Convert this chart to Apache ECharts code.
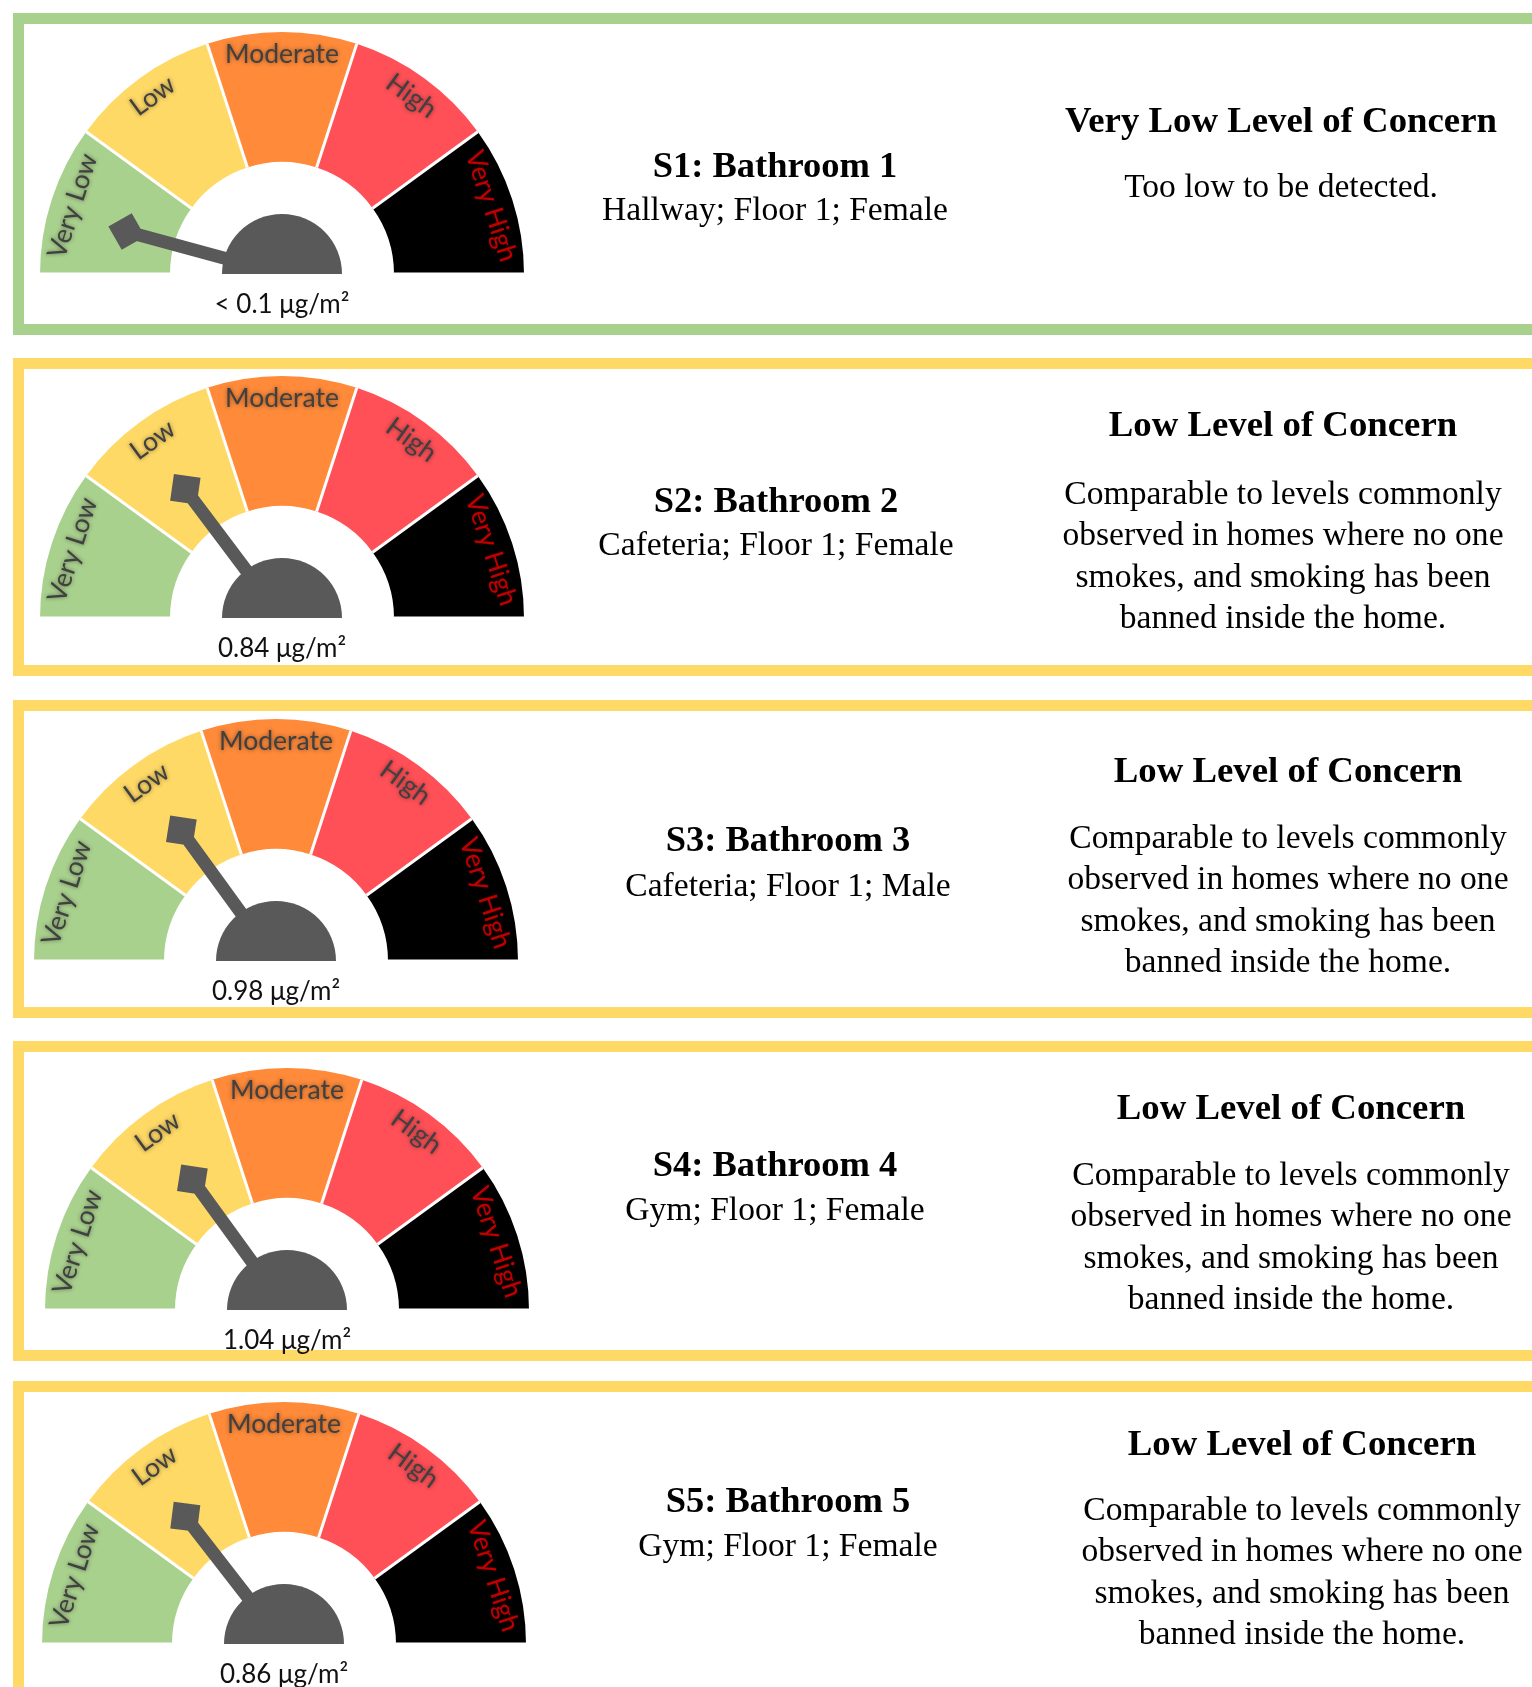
<!DOCTYPE html>
<html>
<head>
<meta charset="utf-8">
<title>Bathroom surface levels</title>
<script src="https://cdn.jsdelivr.net/npm/echarts@6/dist/echarts.min.js"></script>
<style>
  html, body { margin: 0; padding: 0; background: #fff; }
  #chart { width: 1532px; height: 1687px; }
</style>
</head>
<body>
<div id="chart"></div>
<script>
// data
const sites = ['S1: Bathroom 1', 'S2: Bathroom 2', 'S3: Bathroom 3', 'S4: Bathroom 4', 'S5: Bathroom 5']
const locations = [
  'Hallway; Floor 1; Female',
  'Cafeteria; Floor 1; Female',
  'Cafeteria; Floor 1; Male',
  'Gym; Floor 1; Female',
  'Gym; Floor 1; Female'
]
const readingLabels = ['< 0.1 μg/m²', '0.84 μg/m²', '0.98 μg/m²', '1.04 μg/m²', '0.86 μg/m²']
// needle position on the dial, 0..10 (each band is 2 units wide)
const needleValues = [0.85, 2.95, 3.0, 3.0, 2.9]
const bandNames = ['Very Low', 'Low', 'Moderate', 'High', 'Very High']
const concernTitles = [
  'Very Low Level of Concern',
  'Low Level of Concern',
  'Low Level of Concern',
  'Low Level of Concern',
  'Low Level of Concern'
]
const lowNote = [
  'Comparable to levels commonly',
  'observed in homes where no one',
  'smokes, and smoking has been',
  'banned inside the home.'
]
const concernNotes = [['Too low to be detected.'], lowNote, lowNote, lowNote, lowNote]
const panelLevels = [0, 1, 1, 1, 1]

// layout
const bandColors = ['#a9d18e', '#ffd966', '#fe8a3a', '#ff5057', '#000000']
const borderColors = ['#a9d18e', '#ffd966']
const panelTops = [13, 358, 700, 1041, 1381]
const panelBottoms = [335, 676, 1018, 1361, 1720]
const gaugeCenters = [[282, 274], [282, 618], [276, 961], [287, 1310], [284, 1644]]
const midX = [775, 776, 788, 775, 788]
const titleY = [168, 503, 842, 1167, 1503]
const subY = [211, 546, 887, 1211, 1547]
const rightX = [1281, 1283, 1288, 1291, 1302]
const headY = [122, 426, 772, 1109, 1445]
const bodyY = [188, 495, 839, 1176, 1511]

const R = 242
const BAND = 130
const HUB = 60
const BORDER = 11
const serif = '"Liberation Serif", "Times New Roman", serif'
const sans = 'Lato, "Open Sans", sans-serif'

const chart = echarts.init(document.getElementById('chart'))

const graphic = []
const series = []

sites.forEach((site, i) => {
  // panel frame
  graphic.push({
    type: 'rect',
    shape: {
      x: 13 + BORDER / 2,
      y: panelTops[i] + BORDER / 2,
      width: 1600,
      height: panelBottoms[i] - panelTops[i] - BORDER
    },
    style: { fill: 'none', stroke: borderColors[panelLevels[i]], lineWidth: BORDER },
    z: 0
  })
  graphic.push({
    type: 'text',
    style: { text: site, x: midX[i], y: titleY[i], align: 'center', verticalAlign: 'middle',
      font: 'bold 36.5px ' + serif, fill: '#000' }
  })
  graphic.push({
    type: 'text',
    style: { text: locations[i], x: midX[i], y: subY[i], align: 'center', verticalAlign: 'middle',
      font: '33.6px ' + serif, fill: '#000' }
  })
  graphic.push({
    type: 'text',
    style: { text: concernTitles[i], x: rightX[i], y: headY[i], align: 'center', verticalAlign: 'middle',
      font: 'bold 36.8px ' + serif, fill: '#000' }
  })
  concernNotes[i].forEach((line, k) => {
    graphic.push({
      type: 'text',
      style: { text: line, x: rightX[i], y: bodyY[i] + k * 41.5, align: 'center', verticalAlign: 'middle',
        font: '33.6px ' + serif, fill: '#000' }
    })
  })

  const center = gaugeCenters[i]
  const common = {
    type: 'gauge',
    center: center,
    radius: R,
    startAngle: 180.002,
    endAngle: 0,
    min: 0,
    max: 10,
    animation: false,
    title: { show: false },
    axisTick: { show: false }
  }

  // coloured bands, labels, needle, reading
  series.push(Object.assign({}, common, {
    splitNumber: 10,
    axisLine: {
      lineStyle: {
        width: BAND,
        color: bandColors.map((c, k) => [(k + 1) / bandColors.length, c])
      }
    },
    splitLine: { show: false, length: 0, distance: 0 },
    axisLabel: {
      distance: 22,
      rotate: 'tangential',
      formatter: v => {
        if (v % 2 !== 1) return ''
        const name = bandNames[(v - 1) / 2]
        return name === 'Very High' ? '{r|' + name + '}' : '{n|' + name + '}'
      },
      rich: {
        n: {
          fontFamily: sans, fontSize: 26.5, color: '#404040',
          textShadowColor: 'rgba(0,0,0,0.45)', textShadowBlur: 4
        },
        r: {
          fontFamily: sans, fontSize: 26.5, color: '#c00000',
          textShadowColor: 'rgba(120,0,0,0.5)', textShadowBlur: 3
        }
      }
    },
    pointer: {
      icon: 'path://M19 0 L38 19 L19 38 L0 19 Z M12.5 30 L25.5 30 L25.5 150 L12.5 150 Z',
      length: 150,
      width: 38,
      offsetCenter: [0, -30],
      itemStyle: { color: '#595959' }
    },
    anchor: { show: false },
    detail: {
      offsetCenter: [0, 31],
      fontFamily: sans,
      fontSize: 26,
      fontWeight: 'normal',
      color: '#111',
      formatter: () => readingLabels[i]
    },
    data: [{ value: needleValues[i] }]
  }))

  // white separators between bands
  series.push(Object.assign({}, common, {
    splitNumber: bandNames.length,
    axisLine: { show: false, lineStyle: { width: 0 } },
    splitLine: { show: true, length: BAND, distance: 0, lineStyle: { color: '#fff', width: 3 } },
    axisLabel: { show: false },
    pointer: { show: false },
    detail: { show: false },
    data: []
  }))

  // hub
  series.push(Object.assign({}, common, {
    radius: HUB,
    axisLine: { lineStyle: { width: HUB, color: [[1, '#595959']] } },
    splitLine: { show: false },
    axisLabel: { show: false },
    pointer: { show: false },
    detail: { show: false },
    data: []
  }))
})

chart.setOption({
  animation: false,
  graphic: graphic,
  series: series
})
</script>
</body>
</html>
